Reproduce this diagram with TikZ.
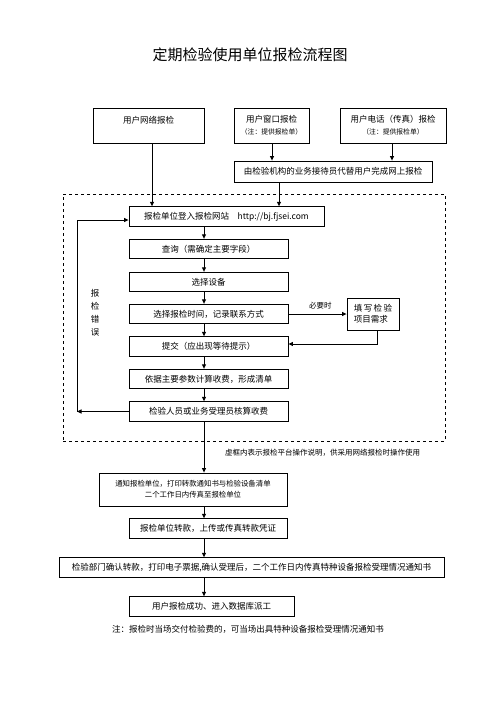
\documentclass[tikz,border=0pt]{standalone}
\usepackage{fontspec}
\setmainfont{Noto Sans CJK SC}
\usepackage{tikz}
\usetikzlibrary{arrows.meta,positioning,calc}
\newcommand{\bfs}{\fontsize{8.5}{11}\selectfont}
\newcommand{\sfs}{\fontsize{6.8}{9}\selectfont}

\begin{document}
\begin{tikzpicture}[x=1pt,y=-1pt,font=\bfs,
  box/.style={draw,line width=0.8pt,inner sep=0pt,align=center,
              minimum height=19.5pt},
  flow/.style={-{Triangle[length=4.5pt,width=4pt]},line width=1pt},
  frame/.style={draw,dashed,line width=0.7pt,inner sep=0pt},
]
\useasboundingbox (0,0) rectangle (496,702);

\node[font=\fontsize{15}{18}\selectfont] (title) at (250,55) {定期检验使用单位报检流程图};

% three ways to apply
\node[box,minimum width=111pt,minimum height=35pt] (web) at (148.5,125.5)
  {用户网络报检\\[1pt]\sfs~};
\node[box,minimum width=75pt,minimum height=35pt] (window) at (271.5,125.5)
  {用户窗口报检\\[1pt]\sfs（注：提供报检单）};
\node[box,minimum width=106pt,minimum height=35pt] (phone) at (393,125.5)
  {用户电话（传真）报检\\[1pt]\sfs（注：提供报检单）};
\node[box,minimum width=198pt,minimum height=21pt] (proxy) at (333,171.5)
  {由检验机构的业务接待员代替用户完成网上报检};

% platform steps
\node[frame,minimum width=382pt,minimum height=247pt] (platform) at (254,317.5) {};
\coordinate (axis) at (204,0);
\node[box,minimum width=195pt] (login) at (226.5,216.5)
  {报检单位登入报检网站\quad http://bj.fjsei.com};
\node[box,minimum width=159pt] (query)  at (208.5,249)   {查询（需确定主要字段）};
\node[box,minimum width=159pt] (device) at (208.5,282)   {选择设备};
\node[box,minimum width=159pt] (time)   at (208.5,314)   {选择报检时间，记录联系方式};
\node[box,minimum width=159pt] (submit) at (208.5,346.5) {提交（应出现等待提示）};
\node[box,minimum width=159pt] (calc)   at (208.5,379)   {依据主要参数计算收费，形成清单};
\node[box,minimum width=159pt] (verify) at (208.5,411.5) {检验人员或业务受理员核算收费};
\node[box,minimum width=52pt,minimum height=32pt,align=left] (need) at (373,314)
  {填\,写\,检\,验\\项目需求};
\node (errlabel) at (95,313) [align=center,font=\fontsize{8.5}{13}\selectfont] {报\\检\\错\\误};
\coordinate (loopb) at (77,411.5);

\node[font=\fontsize{7.5}{9}\selectfont] (dashnote) at (322.5,453)
  {虚框内表示报检平台操作说明，供采用网络报检时操作使用};

% after the platform
\node[box,minimum width=188pt,minimum height=33pt,font=\fontsize{7.4}{11}\selectfont] (notify) at (193,489.5)
  {通知报检单位，打印转款通知书与检验设备清单\\二个工作日内传真至报检单位};
\node[box,minimum width=158pt] (transfer) at (208,528.5) {报检单位转款，上传或传真转款凭证};
\node[box,minimum width=385pt] (confirm) at (251.5,567.5)
  {检验部门确认转款，打印电子票据,确认受理后，二个工作日内传真特种设备报检受理情况通知书};
\node[box,minimum width=165pt] (done) at (211.5,606.5) {用户报检成功、进入数据库派工};
\node (endnote) at (248,629) {注：报检时当场交付检验费的，可当场出具特种设备报检受理情况通知书};

\draw[flow] ([xshift=3.5pt]web.south) -- ([xshift=3.5pt]web.south |- login.north);
\draw[flow] ([xshift=0.5pt]window.south) -- ([xshift=0.5pt]window.south |- proxy.north);
\draw[flow] ([xshift=-1pt]phone.south) -- ([xshift=-1pt]phone.south |- proxy.north);
\draw[flow] ([xshift=-54pt]proxy.south) -- ([xshift=-54pt]proxy.south |- login.north);

\draw[flow] (login.south -| axis) -- (query.north -| axis);
\draw[flow] (query.south -| axis) -- (device.north -| axis);
\draw[flow] (device.south -| axis) -- (time.north -| axis);
\draw[flow] (time.south -| axis) -- (submit.north -| axis);
\draw[flow] (submit.south -| axis) -- (calc.north -| axis);
\draw[flow] (calc.south -| axis) -- (verify.north -| axis);
\draw[flow] (time.east) -- node[above=1pt,pos=0.55,font=\fontsize{7.5}{9}\selectfont] {必要时} (need.west);
\draw[flow] ([xshift=4pt]need.south) |- ([yshift=2.5pt]submit.east);
\draw[flow] (verify.west) -- (loopb);
\draw[flow] (loopb) |- ([yshift=-3.5pt]login.west);

\draw[flow] (verify.south -| axis) -- (notify.north -| axis);
\draw[flow] (notify.south -| axis) -- (transfer.north -| axis);
\draw[flow] (transfer.south -| axis) -- (confirm.north -| axis);
\draw[flow] (confirm.south -| axis) -- (done.north -| axis);
\end{tikzpicture}
\end{document}
